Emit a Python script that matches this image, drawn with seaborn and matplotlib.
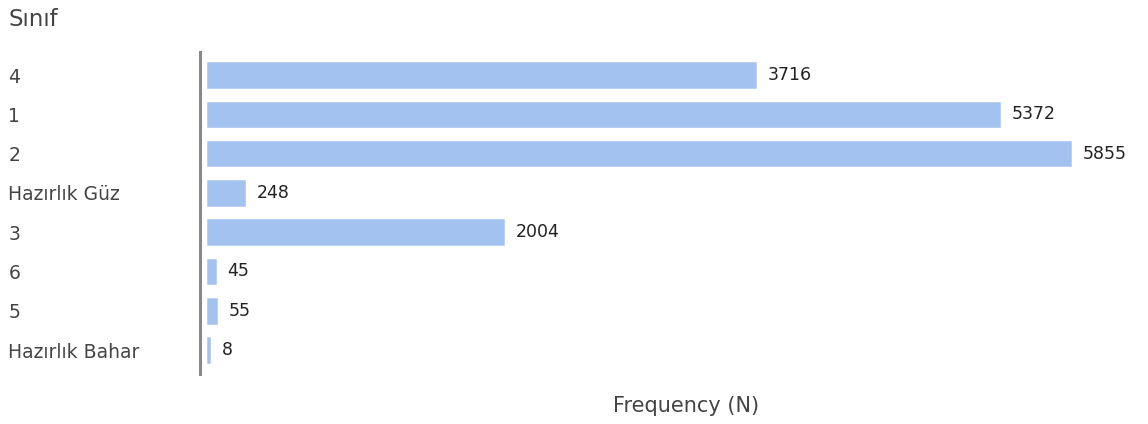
import pandas as pd
import matplotlib.pyplot as plt
import seaborn as sns

# Datos
siniflar = ['4', '1', '2', 'Hazırlık Güz', '3', '6', '5', 'Hazırlık Bahar']
frekans = [3716, 5372, 5855, 248, 2004, 45, 55, 8]

datos = pd.DataFrame({'Sınıf': siniflar, 'N': frekans})

sns.set_style('white')
plt.rcParams['font.family'] = ['DejaVu Sans']

fig = plt.figure(figsize=(11.48, 4.24), dpi=100)
ax = fig.add_axes([0.1742, 0.1179, 0.7927, 0.7594])

color_barra = '#a4c2f0'
sns.barplot(data=datos, x='N', y='Sınıf', color=color_barra, width=0.6,
            saturation=1, edgecolor=color_barra, linewidth=1.8, ax=ax, orient='h')

ax.set_xlim(-54, 6125)
ax.set_ylim(7.61, -0.585)

for lado in ['top', 'right', 'bottom']:
    ax.spines[lado].set_visible(False)
ax.spines['left'].set_color('#888888')
ax.spines['left'].set_linewidth(2.2)

ax.set_xticks([])
ax.set_xlabel('')
ax.set_ylabel('')
ax.tick_params(axis='y', length=0, pad=138, labelsize=13.5, labelcolor='#444444')
for etiqueta in ax.get_yticklabels():
    etiqueta.set_ha('left')

ax.bar_label(ax.containers[0], labels=[str(v) for v in frekans], padding=9,
             fontsize=12.5, color='#222222')

fig.text(8 / 1148, 1 - 19 / 424, 'Sınıf', fontsize=16.5, color='#444444',
         ha='left', va='center')
fig.text(686 / 1148, 1 - 406 / 424, 'Frequency (N)', fontsize=15,
         color='#444444', ha='center', va='center')

plt.savefig('out.png', dpi=100)
